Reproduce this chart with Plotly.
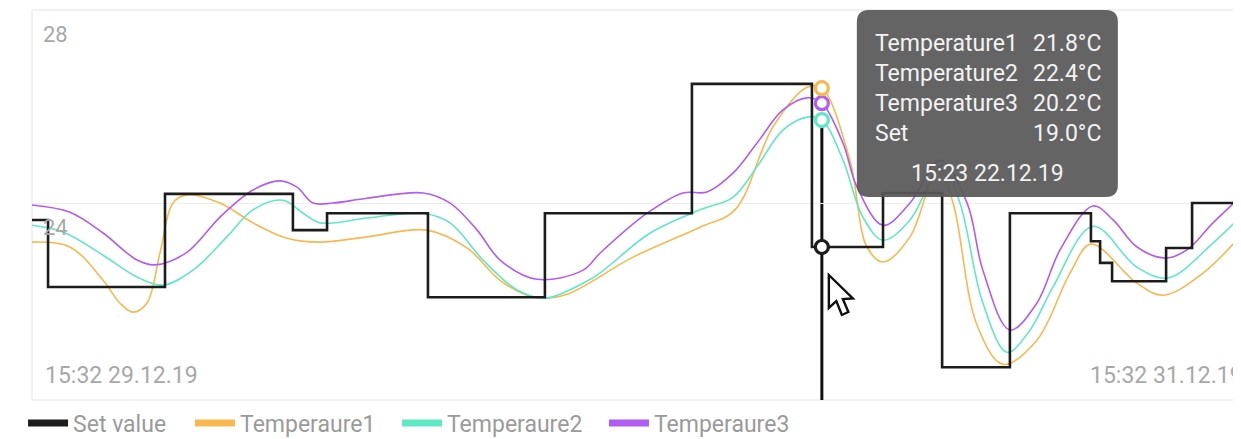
import plotly.graph_objects as go

# ---------------- data (x = hours since 15:32 29.12.19) ----------------
set_x = [0, 0.63, 5.22, 10.24, 11.58, 15.54, 20.13, 25.90, 30.61, 31.00, 33.40, 35.72,
         38.38, 41.56, 41.92, 42.39, 44.51, 45.53, 47.6]
set_y = [23.65, 22.26, 24.19, 23.44, 23.79, 22.05, 23.79, 26.47, 23.09, 23.09, 24.21, 20.60,
         23.79, 23.21, 22.76, 22.38, 23.07, 24.0, 24.0]

t1_x = [0, 1.49, 2.79, 3.45, 3.96, 4.51, 5.02, 5.53, 6.08, 7.38, 8.67, 10.01, 11.30, 13.15,
        15.50, 17.07, 18.37, 19.43, 19.94, 21.00, 23.59, 26.22, 27.59, 29.08, 30.42, 31.00,
        32.10, 32.77, 33.40, 34.46, 35.56, 36.15, 37.09, 38.11, 39.44, 40.74, 41.56, 43.37,
        44.39, 45.96, 47.6]
t1_y = [23.19, 23.09, 22.40, 21.93, 21.74, 21.93, 22.96, 24.00, 24.17, 24.00, 23.59, 23.27,
        23.19, 23.30, 23.44, 23.07, 22.40, 22.09, 22.03, 22.11, 22.88, 23.50, 23.86, 25.58,
        26.40, 26.38, 24.89, 23.09, 22.78, 23.30, 24.73, 24.00, 21.47, 20.66, 21.16, 22.55,
        23.15, 22.34, 22.09, 22.55, 23.42]

t2_x = [0, 1.22, 2.79, 4.12, 5.14, 6.32, 7.65, 8.67, 9.85, 10.64, 11.30, 13.15, 15.35, 16.41,
        17.70, 19.04, 20.13, 21.63, 22.29, 24.26, 26.22, 27.51, 28.45, 29.47, 30.42, 31.00,
        31.83, 32.61, 33.40, 34.46, 35.72, 36.42, 37.32, 38.27, 39.17, 40.07, 41.64, 43.37,
        44.59, 46.35, 47.6]
t2_y = [23.54, 23.40, 22.92, 22.47, 22.30, 22.61, 23.30, 23.86, 24.06, 23.79, 23.59, 23.69,
        23.79, 23.59, 22.82, 22.20, 22.03, 22.34, 22.55, 23.38, 23.86, 24.12, 24.75, 25.51,
        25.78, 25.72, 24.89, 23.71, 23.23, 23.65, 24.79, 24.00, 21.93, 20.91, 21.37, 22.26,
        23.52, 22.67, 22.45, 23.17, 23.81]

t3_x = [0, 1.49, 2.79, 4.12, 4.83, 6.08, 7.38, 8.67, 9.73, 10.40, 11.03, 11.81, 13.15, 15.35,
        16.41, 17.47, 18.37, 19.82, 21.63, 22.29, 24.14, 25.55, 26.49, 27.51, 28.45, 29.47,
        30.42, 31.00, 31.83, 32.38, 33.40, 34.46, 35.64, 36.70, 37.32, 38.38, 39.44, 40.35,
        41.64, 42.43, 43.37, 44.47, 45.33, 46.35, 47.6]
t3_y = [23.96, 23.81, 23.38, 22.82, 22.72, 22.98, 23.71, 24.27, 24.46, 24.33, 24.00, 24.00,
        24.10, 24.21, 24.00, 23.44, 22.82, 22.42, 22.61, 22.96, 23.79, 24.21, 24.23, 24.62,
        25.24, 25.93, 26.18, 26.07, 25.24, 24.33, 23.54, 24.00, 24.89, 24.00, 22.61, 21.37,
        21.93, 23.03, 23.94, 23.65, 23.09, 22.86, 23.03, 23.59, 24.21]

legend_names = ["Set value", "Temperaure1", "Temperaure2", "Temperaure3"]
y_tick_vals = [28, 24]
y_tick_text = ["28", "24"]
x_range = [0, 47.45]
x_labels = ["15:32 29.12.19", "15:32 31.12.19"]

hover_x = 31.00
tip_names = ["Temperature1", "Temperature2", "Temperature3", "Set"]
tip_values = ["21.8°C", "22.4°C", "20.2°C", "19.0°C"]
tip_date = "15:23 22.12.19"

# ---------------- style ----------------
C_SET = "#1c1c1c"
C_T1 = "#f7b84e"
C_T2 = "#5ee8c4"
C_T3 = "#b15cf2"
FONT = "Roboto"
Y_RANGE = [19.92, 28]

fig = go.Figure()

for xs, ys, c in [(t1_x, t1_y, C_T1), (t2_x, t2_y, C_T2), (t3_x, t3_y, C_T3)]:
    fig.add_trace(go.Scatter(x=xs, y=ys, mode="lines", line=dict(color=c, width=1.6, shape="spline", smoothing=1.0),
                             showlegend=False, hoverinfo="skip"))
fig.add_trace(go.Scatter(x=set_x, y=set_y, mode="lines", line=dict(color=C_SET, width=2.6, shape="hv"),
                         showlegend=False, hoverinfo="skip"))

# hover markers (values taken from the series at the hovered x)
h1 = t1_y[t1_x.index(hover_x)]
h2 = t2_y[t2_x.index(hover_x)]
h3 = t3_y[t3_x.index(hover_x)]
hs = set_y[set_x.index(hover_x)]

fig.add_shape(type="line", xref="x", yref="y", x0=hover_x, x1=hover_x, y0=h2, y1=Y_RANGE[0],
              line=dict(color="#111111", width=3), layer="below")

for v, c in [(h2, C_T2), (h3, C_T3), (h1, C_T1), (hs, C_SET)]:
    fig.add_trace(go.Scatter(x=[hover_x], y=[v], mode="markers", showlegend=False, hoverinfo="skip",
                             marker=dict(size=13, color="white", line=dict(color=c, width=3.2))))

# legend-only entries
for i, (n, c) in enumerate(zip(legend_names, [C_SET, C_T1, C_T2, C_T3])):
    fig.add_trace(go.Scatter(x=[None], y=[None], mode="lines", name=n, line=dict(color=c, width=7),
                             legend="legend" if i == 0 else f"legend{i+1}"))

# plot border
fig.add_shape(type="rect", xref="paper", yref="paper", x0=0, x1=1.05, y0=0, y1=1,
              line=dict(color="#e4e4e4", width=1), layer="below")

# tooltip box (rounded) anchored at the hovered point / top of axis
L, R, T, B, r = 35, 296, 0, -187, 12
path = (f"M{L+r},{T} L{R-r},{T} Q{R},{T} {R},{T-r} L{R},{B+r} Q{R},{B} {R-r},{B} "
        f"L{L+r},{B} Q{L},{B} {L},{B+r} L{L},{T-r} Q{L},{T} {L+r},{T} Z")
fig.add_shape(type="path", xref="x", yref="y", xsizemode="pixel", ysizemode="pixel",
              xanchor=hover_x, yanchor=Y_RANGE[1], path=path,
              fillcolor="rgba(88,88,88,0.93)", line=dict(width=0), layer="above")

# cursor arrow
cur = [(0, 0), (0, 33), (7.5, 26), (13, 40), (19.5, 37), (14, 24), (24, 23.5)]
dx, dy = 7, 28
cpath = "M" + " L".join(f"{dx+px},{-(dy+py)}" for px, py in cur) + " Z"
fig.add_shape(type="path", xref="x", yref="y", xsizemode="pixel", ysizemode="pixel",
              xanchor=hover_x, yanchor=hs, path=cpath,
              fillcolor="white", line=dict(color="#111111", width=2.4), layer="above")

ann = []
TXT = "#f2f2f2"
row_shift = [-33, -63, -93, -123]
for n, v, s in zip(tip_names, tip_values, row_shift):
    ann.append(dict(x=hover_x, y=Y_RANGE[1], xref="x", yref="y", text=n, showarrow=False,
                    xanchor="left", yanchor="middle", xshift=51, yshift=s,
                    font=dict(family=FONT, size=23, color=TXT)))
    ann.append(dict(x=hover_x, y=Y_RANGE[1], xref="x", yref="y", text=v, showarrow=False,
                    xanchor="right", yanchor="middle", xshift=281, yshift=s,
                    font=dict(family=FONT, size=23, color=TXT)))
ann.append(dict(x=hover_x, y=Y_RANGE[1], xref="x", yref="y", text=tip_date, showarrow=False,
                xanchor="center", yanchor="middle", xshift=166, yshift=-163,
                font=dict(family=FONT, size=23, color=TXT)))

AX = "#a8a8a8"
for v, t in zip(y_tick_vals, y_tick_text):
    ann.append(dict(x=0, y=v, xref="paper", yref="y", text=t, showarrow=False,
                    xanchor="left", yanchor="middle", xshift=9, yshift=-24,
                    font=dict(family=FONT, size=22, color=AX)))
ann.append(dict(x=0, y=0, xref="paper", yref="paper", text=x_labels[0], showarrow=False,
                xanchor="left", yanchor="middle", xshift=11, yshift=25,
                font=dict(family=FONT, size=23, color=AX)))
ann.append(dict(x=1, y=0, xref="paper", yref="paper", text=x_labels[1], showarrow=False,
                xanchor="right", yanchor="middle", xshift=4, yshift=25,
                font=dict(family=FONT, size=23, color=AX)))

leg_font = dict(family=FONT, size=23, color="#9a9a9a")
leg_common = dict(orientation="h", yanchor="middle", xanchor="left", yref="container", y=0.037,
                  bgcolor="rgba(0,0,0,0)", font=leg_font, borderwidth=0, itemwidth=40)
leg_x = [-0.0074, 0.1307, 0.3019, 0.4731]

# the page body adds an 8px margin: the figure is sized/offset to compensate
fig.update_layout(
    width=1233, height=431, autosize=False,
    margin=dict(l=24, r=0, t=2, b=39, autoexpand=False),
    paper_bgcolor="white", plot_bgcolor="white",
    font=dict(family=FONT),
    xaxis=dict(range=x_range, showgrid=False, zeroline=False, showticklabels=False,
               showline=False, ticks=""),
    yaxis=dict(range=Y_RANGE, tickvals=y_tick_vals, showgrid=True, gridcolor="#ededed",
               gridwidth=1, zeroline=False, showticklabels=False, showline=False, ticks=""),
    annotations=ann,
    legend=dict(x=leg_x[0], **leg_common),
    legend2=dict(x=leg_x[1], **leg_common),
    legend3=dict(x=leg_x[2], **leg_common),
    legend4=dict(x=leg_x[3], **leg_common),
    hovermode=False,
)

fig.write_html("out.html")
